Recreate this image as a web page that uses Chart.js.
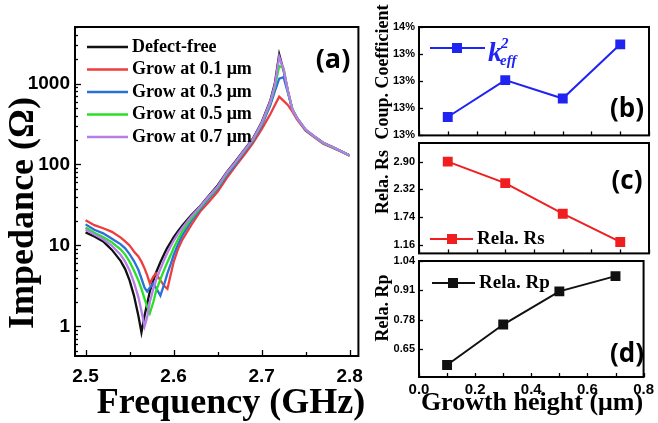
<!DOCTYPE html>
<html>
<head>
<meta charset="utf-8">
<script src="https://cdn.jsdelivr.net/npm/chart.js@4.4.0/dist/chart.umd.min.js"></script>
<style>
body { margin: 0; background: #fff; }
#wrap { position: relative; width: 658px; height: 423px; overflow: hidden; background: #fff; }
canvas { position: absolute; }
</style>
</head>
<body>
<div id="wrap">
  <canvas id="canvasA" width="372" height="423" style="left:0;top:0"></canvas>
  <canvas id="canvasB" width="288" height="146" style="left:370px;top:0"></canvas>
  <canvas id="canvasC" width="288" height="144" style="left:370px;top:120px"></canvas>
  <canvas id="canvasD" width="288" height="185" style="left:370px;top:238px"></canvas>
</div>
<script>
// impedance sweep, GHz vs ohm
var freqGHz = [2.50, 2.51, 2.52, 2.53, 2.54, 2.545, 2.55, 2.555, 2.56, 2.5635, 2.567, 2.57, 2.573, 2.577,
  2.58, 2.585, 2.59, 2.593, 2.597, 2.60, 2.605, 2.61, 2.62, 2.63, 2.64, 2.65, 2.66, 2.67, 2.68, 2.69,
  2.70, 2.71, 2.715, 2.72, 2.725, 2.73, 2.735, 2.74, 2.75, 2.76, 2.77, 2.78, 2.79, 2.80];
var freqTicks = [2.5, 2.55, 2.6, 2.65, 2.7, 2.75, 2.8];

var zDefectFree = [14.5, 12.9, 11.2, 8.8, 6.4, 5.1, 3.7, 2.4, 1.35, 0.84, 1.35, 1.9, 2.7, 3.7,
  4.6, 6.2, 8.1, 9.4, 11.1, 12.6, 15.0, 17.6, 23.5, 30.5, 41, 55, 79, 108, 150, 208,
  330, 620, 1000, 2300, 1450, 800, 470, 375, 268, 222, 186, 166, 147, 129];
var zGrow01 = [20.5, 17.8, 16.3, 14.7, 12.5, 11.2, 10.0, 8.4, 7.3, 6.3, 5.2, 4.3, 3.4, 4.1,
  4.5, 3.7, 3.1, 2.9, 4.5, 6.2, 9.0, 11.8, 17.8, 26, 34.5, 46, 67, 94, 130, 182,
  272, 420, 540, 690, 610, 540, 450, 365, 262, 216, 181, 162, 145, 128];
var zGrow03 = [18.2, 15.6, 14.1, 12.1, 10.3, 9.2, 7.8, 6.4, 5.0, 3.9, 3.0, 2.7, 3.0, 3.4,
  3.0, 2.4, 3.5, 4.5, 6.0, 7.6, 10.3, 13.4, 20, 28, 38, 50, 73, 100, 140, 195,
  300, 540, 800, 1150, 1200, 760, 480, 380, 266, 219, 183, 164, 146, 129];
var zGrow05 = [16.6, 14.3, 12.7, 10.9, 8.9, 7.7, 6.3, 4.9, 3.7, 2.9, 2.2, 1.75, 1.45, 2.0,
  2.7, 3.8, 5.2, 6.2, 7.7, 9.2, 11.9, 14.9, 21.4, 29, 39.5, 52, 76, 104, 145, 200,
  315, 580, 900, 1650, 1550, 790, 485, 382, 270, 221, 184, 165, 147, 130];
var zGrow07 = [15.7, 13.6, 11.9, 9.9, 7.6, 6.3, 4.9, 3.5, 2.3, 1.55, 1.0, 1.3, 2.0, 2.9,
  3.7, 5.1, 6.9, 8.1, 9.9, 11.4, 13.9, 16.5, 22.7, 30, 40.5, 53.5, 78, 106, 148, 204,
  322, 600, 950, 2150, 1500, 805, 475, 378, 272, 222, 185, 166, 147, 129];

var seriesLabels = ['Defect-free', 'Grow at 0.1 \u03bcm', 'Grow at 0.3 \u03bcm', 'Grow at 0.5 \u03bcm', 'Grow at 0.7 \u03bcm'];
var seriesColors = ['#111111', '#f03c3c', '#2b6fdc', '#27e027', '#b57ee8'];

// extracted parameters vs growth height (um)
var growthHeight = [0.1, 0.3, 0.5, 0.7];
var k2eff = [12.67, 13.01, 12.84, 13.34];
var relaRs = [2.90, 2.45, 1.81, 1.22];
var relaRp = [0.578, 0.758, 0.905, 0.973];

var k2Ticks = [12.5, 12.75, 13, 13.25, 13.5];
var rsTicks = [1.16, 1.74, 2.32, 2.90];
var rpTicks = [0.65, 0.78, 0.91, 1.04];

var SERIF = "'Liberation Serif', 'Times New Roman', serif";
var SANS = "'Liberation Sans', Arial, sans-serif";
var TAG = "'Open Sans', 'Liberation Sans', sans-serif";

Chart.defaults.color = '#000';
Chart.defaults.font.family = SANS;

function isMult(v, step) {
  var r = v / step;
  return Math.abs(r - Math.round(r)) < 1e-6;
}

function fixedTicks(list) {
  return function(s) { s.ticks = list.map(function(v) { return { value: v }; }); };
}

// box around the plot area + inward tick marks on bottom and left
function framePlugin(xLen, yLen) {
  return {
    id: 'frame',
    afterDraw: function(chart) {
      var ctx = chart.ctx, a = chart.chartArea, sx = chart.scales.x, sy = chart.scales.y;
      ctx.save();
      ctx.strokeStyle = '#000';
      ctx.lineWidth = 1.3;
      sx.ticks.forEach(function(t) {
        var len = xLen(t.value);
        if (!len) return;
        var px = Math.round(sx.getPixelForValue(t.value)) + 0.5;
        ctx.beginPath(); ctx.moveTo(px, a.bottom); ctx.lineTo(px, a.bottom - len); ctx.stroke();
      });
      sy.ticks.forEach(function(t) {
        var len = yLen(t.value);
        if (!len) return;
        var py = Math.round(sy.getPixelForValue(t.value)) + 0.5;
        ctx.beginPath(); ctx.moveTo(a.left, py); ctx.lineTo(a.left + len, py); ctx.stroke();
      });
      ctx.lineWidth = 2;
      ctx.strokeRect(a.left, a.top, a.right - a.left, a.bottom - a.top);
      ctx.restore();
    }
  };
}

function textPlugin(items) {
  return {
    id: 'texts',
    afterDraw: function(chart) {
      var ctx = chart.ctx;
      items.forEach(function(it) {
        ctx.save();
        ctx.font = it.font;
        ctx.fillStyle = it.color || '#000';
        ctx.textAlign = it.align || 'center';
        ctx.textBaseline = 'middle';
        ctx.translate(it.x, it.y);
        if (it.rot) ctx.rotate(it.rot);
        ctx.fillText(it.text, 0, 0);
        ctx.restore();
      });
    }
  };
}

// legend with plain line swatches, drawn inside the plot
var curveLegend = {
  id: 'curveLegend',
  afterDraw: function(chart) {
    var ctx = chart.ctx;
    ctx.save();
    ctx.font = 'bold 18px ' + SERIF;
    ctx.textBaseline = 'middle';
    chart.data.datasets.forEach(function(ds, i) {
      var y = 47 + i * 22.5;
      ctx.strokeStyle = ds.borderColor;
      ctx.lineWidth = 2.5;
      ctx.beginPath(); ctx.moveTo(87, y); ctx.lineTo(128, y); ctx.stroke();
      ctx.fillStyle = '#000';
      ctx.fillText(ds.label, 132, y);
    });
    ctx.restore();
  }
};

// line + square marker swatch for the small panels
function markerLegend(x0, x1, xm, y, label) {
  return {
    id: 'markerLegend',
    afterDraw: function(chart) {
      var ctx = chart.ctx, c = chart.data.datasets[0].borderColor;
      ctx.save();
      ctx.strokeStyle = c;
      ctx.fillStyle = c;
      ctx.lineWidth = 2;
      ctx.beginPath(); ctx.moveTo(x0, y); ctx.lineTo(x1, y); ctx.stroke();
      ctx.fillRect(xm - 5, y - 5, 10, 10);
      if (label) {
        ctx.fillStyle = '#000';
        ctx.font = 'bold 19px ' + SERIF;
        ctx.textBaseline = 'middle';
        ctx.fillText(label, x1 + 4, y);
      } else {
        // k^2_eff
        ctx.fillStyle = c;
        ctx.textBaseline = 'alphabetic';
        ctx.font = 'italic bold 28px ' + SERIF;
        ctx.fillText('k', x1 + 3, y + 13);
        ctx.font = 'italic bold 15px ' + SERIF;
        ctx.fillText('2', x1 + 16, y);
        ctx.fillText('eff', x1 + 15, y + 17);
      }
      ctx.restore();
    }
  };
}

function pts(xs, ys) {
  return xs.map(function(x, i) { return { x: x, y: ys[i] }; });
}

var zSeries = [zDefectFree, zGrow01, zGrow03, zGrow05, zGrow07];
var drawOrder = [4, 3, 2, 1, 0];

new Chart(document.getElementById('canvasA'), {
  type: 'line',
  data: {
    datasets: zSeries.map(function(z, i) {
      return {
        label: seriesLabels[i],
        data: pts(freqGHz, z),
        borderColor: seriesColors[i],
        borderWidth: 2.3,
        pointRadius: 0,
        tension: 0,
        order: drawOrder[i]
      };
    })
  },
  options: {
    responsive: false,
    animation: false,
    layout: { padding: { left: 0, top: 27, right: 6, bottom: 0 } },
    plugins: { legend: { display: false }, tooltip: { enabled: false } },
    scales: {
      x: {
        type: 'linear', min: 2.488, max: 2.81,
        grid: { display: false, drawTicks: false },
        border: { display: false },
        afterBuildTicks: fixedTicks(freqTicks),
        ticks: {
          autoSkip: false, maxRotation: 0, padding: 9,
          font: { size: 19, weight: 'bold' },
          callback: function(v) { return isMult(v, 0.1) ? v.toFixed(1) : ''; }
        },
        afterFit: function(s) { s.height = 67; }
      },
      y: {
        type: 'logarithmic', min: 0.43, max: 5000,
        grid: { display: false, drawTicks: false },
        border: { display: false },
        ticks: {
          autoSkip: false, padding: 5,
          font: { size: 19, weight: 'bold' },
          callback: function(v) {
            var l = Math.log10(v);
            return Math.abs(l - Math.round(l)) < 1e-6 ? String(Math.round(v)) : '';
          }
        },
        afterFit: function(s) { s.width = 75; }
      }
    }
  },
  plugins: [
    framePlugin(
      function(v) { return isMult(v, 0.1) ? 6 : 4; },
      function(v) {
        var e = Math.pow(10, Math.floor(Math.log10(v) + 1e-9));
        var m = v / e;
        if (Math.abs(m - Math.round(m)) > 1e-6) return 0;
        return Math.round(m) === 1 ? 6 : 3;
      }
    ),
    curveLegend,
    textPlugin([
      { text: '(a)', x: 333, y: 60, font: 'bold 27px ' + TAG },
      { text: 'Impedance (\u03a9)', x: 24, y: 213, rot: -Math.PI / 2, font: 'bold 36px ' + SERIF },
      { text: 'Frequency (GHz)', x: 231, y: 404, font: 'bold 36px ' + SERIF }
    ])
  ]
});

function smallPanel(id, values, color, yOpts, showX, padTop, padBottom, extra) {
  var xTicks = {
    display: showX, stepSize: 0.1, autoSkip: false, maxRotation: 0, padding: 4,
    font: { size: 15, weight: 'bold' },
    callback: function(v) { return isMult(v, 0.2) ? v.toFixed(1) : ''; }
  };
  return new Chart(document.getElementById(id), {
    type: 'line',
    data: {
      datasets: [{
        data: pts(growthHeight, values),
        borderColor: color,
        backgroundColor: color,
        borderWidth: 2,
        pointStyle: 'rect',
        pointRadius: 7,
        pointBorderWidth: 0,
        tension: 0
      }]
    },
    options: {
      responsive: false,
      animation: false,
      layout: { padding: { left: 0, top: padTop, right: 9, bottom: padBottom } },
      plugins: { legend: { display: false }, tooltip: { enabled: false } },
      scales: {
        x: {
          type: 'linear', min: 0, max: 0.8,
          grid: { display: false, drawTicks: false },
          border: { display: false },
          ticks: xTicks,
          afterFit: function(s) { s.height = showX ? 46 : 0; }
        },
        y: Object.assign({
          type: 'linear',
          grid: { display: false, drawTicks: false },
          border: { display: false },
          afterFit: function(s) { s.width = 49; }
        }, yOpts)
      }
    },
    plugins: [
      framePlugin(function(v) { return isMult(v, 0.1) ? 4 : 0; }, function() { return 4; })
    ].concat(extra)
  });
}

smallPanel('canvasB', k2eff, '#1f24f2', {
  min: 12.5, max: 13.5,
  afterBuildTicks: fixedTicks(k2Ticks),
  ticks: { padding: 4, font: { size: 11, weight: 'bold' }, callback: function(v) { return Math.round(v) + '%'; } }
}, false, 27, 3, [
  markerLegend(60, 115, 87, 48, null),
  textPlugin([
    { text: '(b)', x: 257, y: 110, font: 'bold 26px ' + TAG },
    { text: 'Coup. Coefficient', x: 13, y: 72, rot: -Math.PI / 2, font: 'bold 18px ' + SERIF }
  ])
]);

smallPanel('canvasC', relaRs, '#f01e1e', {
  min: 0.98, max: 3.29,
  afterBuildTicks: fixedTicks(rsTicks),
  ticks: { padding: 4, font: { size: 11, weight: 'bold' }, callback: function(v) { return v.toFixed(2); } }
}, false, 23, 3, [
  markerLegend(60, 103, 82, 119, 'Rela. Rs'),
  textPlugin([
    { text: '(c)', x: 257, y: 62, font: 'bold 26px ' + TAG },
    { text: 'Rela. Rs', x: 13, y: 62, rot: -Math.PI / 2, font: 'bold 18px ' + SERIF }
  ])
]);

smallPanel('canvasD', relaRp, '#111111', {
  min: 0.525, max: 1.04,
  afterBuildTicks: fixedTicks(rpTicks),
  ticks: { padding: 4, font: { size: 11, weight: 'bold' }, callback: function(v) { return v.toFixed(2); } }
}, true, 23, 0, [
  markerLegend(62, 105, 83, 45, 'Rela. Rp'),
  textPlugin([
    { text: '(d)', x: 257, y: 117, font: 'bold 26px ' + TAG },
    { text: 'Rela. Rp', x: 13, y: 70, rot: -Math.PI / 2, font: 'bold 18px ' + SERIF },
    { text: 'Growth height (\u03bcm)', x: 162, y: 165, font: 'bold 26px ' + SERIF }
  ])
]);
</script>
</body>
</html>
